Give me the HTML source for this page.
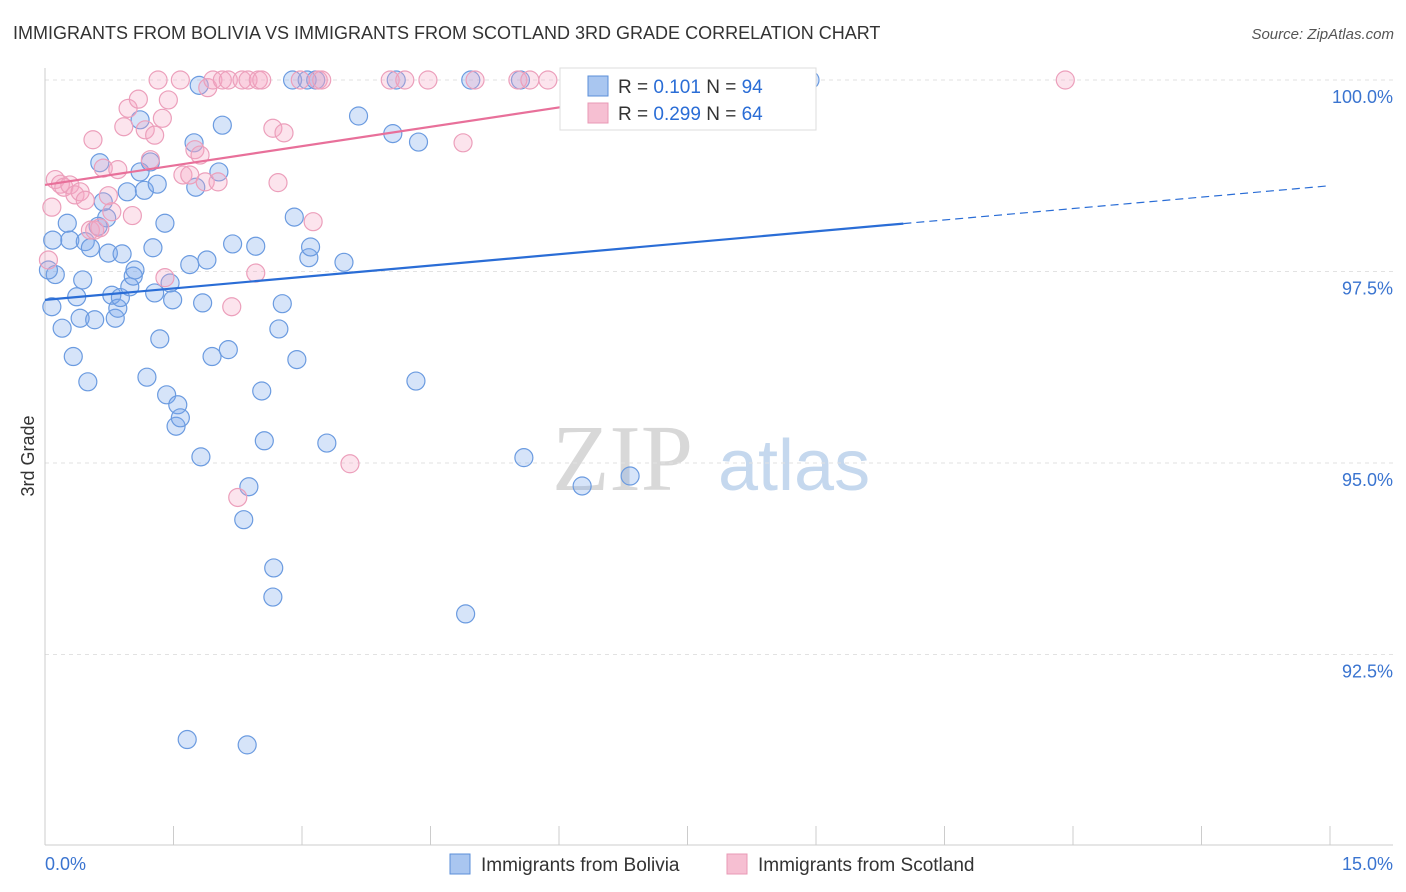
<!DOCTYPE html>
<html><head><meta charset="utf-8">
<style>
body{margin:0;background:#fff;font-family:"Liberation Sans",sans-serif;}
svg{display:block}
</style></head>
<body>
<svg id="chart" width="1406" height="892" viewBox="0 0 1406 892" xmlns="http://www.w3.org/2000/svg">
<text x="13" y="39" font-size="18" fill="#333">IMMIGRANTS FROM BOLIVIA VS IMMIGRANTS FROM SCOTLAND 3RD GRADE CORRELATION CHART</text>
<text x="1394" y="39" font-size="15" fill="#555" text-anchor="end" font-style="italic">Source: ZipAtlas.com</text>
<g>
<text x="552" y="490" font-size="94" font-family="Liberation Serif,serif" fill="#d8d8d8">ZIP</text>
<text x="718" y="490" font-size="72" fill="#c5d8ee">atlas</text>
</g>
<g id="grid"></g>
<g id="axes"></g>
<g id="blue"></g>
<g id="pink"></g>
<g id="trend"></g>
<g>
<rect x="560" y="68" width="256" height="62" fill="#fff" stroke="#ddd"/>
<rect x="588" y="76" width="20" height="20" fill="#a9c6f0" stroke="#5b8fd9"/>
<text x="618" y="93" font-size="19" fill="#333">R = <tspan fill="#2a6dd6">0.101</tspan>   N = <tspan fill="#2a6dd6">94</tspan></text>
<rect x="588" y="103" width="20" height="20" fill="#f6bfd2" stroke="#e899b5"/>
<text x="618" y="120" font-size="19" fill="#333">R = <tspan fill="#2a6dd6">0.299</tspan>   N = <tspan fill="#2a6dd6">64</tspan></text>
</g>
<g>
<rect x="450" y="854" width="20" height="20" fill="#a9c6f0" stroke="#5b8fd9"/>
<text x="481" y="871" font-size="19" fill="#333">Immigrants from Bolivia</text>
<rect x="727" y="854" width="20" height="20" fill="#f6bfd2" stroke="#e899b5"/>
<text x="758" y="871" font-size="19" fill="#333">Immigrants from Scotland</text>
</g>
<text transform="translate(34,456) rotate(-90)" font-size="18" fill="#333" text-anchor="middle">3rd Grade</text>
</svg>
<script>
const yTicks=[100,97.5,95,92.5];
const yTickLabels=["100.0%","97.5%","95.0%","92.5%"];
const xTicks=[0,1.5,3,4.5,6,7.5,9,10.5,12,13.5,15];
const blueX=[0.08,0.12,0.09,0.20,0.26,0.29,0.33,0.37,0.41,0.44,0.47,0.50,0.53,0.58,0.62,0.64,0.68,0.72,0.74,0.78,0.82,0.85,0.88,0.90,0.96,0.99,1.03,1.05,1.11,1.11,1.16,1.19,1.23,1.26,1.28,1.31,1.34,1.40,1.42,1.46,1.49,1.53,1.55,1.58,1.66,1.69,1.74,1.76,1.80,1.82,1.84,1.89,1.95,2.03,2.07,2.14,2.19,2.32,2.36,2.38,2.46,2.53,2.56,2.67,2.66,2.73,2.77,2.91,2.94,2.89,3.06,3.08,3.10,3.16,3.29,3.49,3.66,4.06,4.10,4.33,4.36,4.91,4.97,5.59,5.55,6.27,6.83,8.93,6.48,0.04];
const blueY=[97.04,97.46,97.91,96.76,98.13,97.91,96.39,97.17,96.89,97.39,97.89,96.06,97.81,96.87,98.09,98.92,98.41,98.20,97.74,97.19,96.89,97.02,97.16,97.73,98.54,97.30,97.44,97.52,98.80,99.48,98.56,96.12,98.93,97.81,97.22,98.64,96.62,98.13,95.89,97.35,97.13,95.48,95.76,95.59,91.39,97.59,99.18,98.60,99.93,95.08,97.09,97.65,96.39,98.80,99.41,96.48,97.86,94.26,91.32,94.69,97.83,95.94,95.29,93.63,93.25,96.75,97.08,98.21,96.35,100,100,97.68,97.82,100,95.26,97.62,99.53,99.30,100,96.07,99.19,93.03,100,95.07,100,94.70,94.83,100,99.93,97.52];
const pinkX=[0.04,0.08,0.12,0.18,0.22,0.29,0.35,0.41,0.47,0.53,0.58,0.64,0.68,0.74,0.78,0.85,0.92,0.97,1.02,1.09,1.17,1.23,1.28,1.32,1.37,1.40,1.44,1.58,1.61,1.69,1.75,1.81,1.87,1.90,1.96,2.02,2.07,2.14,2.18,2.25,2.30,2.37,2.46,2.49,2.53,2.66,2.72,2.79,2.98,3.13,3.19,3.23,3.56,4.03,4.20,4.47,4.88,5.02,5.52,5.66,5.87,11.91,0.56];
const pinkY=[97.65,98.34,98.70,98.64,98.60,98.63,98.50,98.54,98.43,98.04,98.04,98.07,98.85,98.49,98.28,98.83,99.39,99.63,98.23,99.75,99.35,98.96,99.28,100,99.50,97.42,99.74,100,98.76,98.76,99.09,99.02,98.67,99.90,100,98.67,100,100,97.04,94.55,100,100,97.48,100,100,99.37,98.66,99.31,100,98.15,100,100,94.99,100,100,100,99.18,100,100,100,100,100,99.22];
const blueTrend=[97.13,98.62]; // values at x=0 and x=15
const blueSolidEnd=10.02;
const pinkTrend=[98.63,100.03]; // values at x=0 and x=pinkEnd
const pinkEnd=8.3;

const NS="http://www.w3.org/2000/svg";
const X0=45,X1=1330,Y100=80,PX_PER=76.6;
function sx(v){return X0+(v/15)*(X1-X0);}
function sy(v){return Y100+(100-v)*PX_PER;}
function mk(tag,attrs,parent){const e=document.createElementNS(NS,tag);for(const k in attrs)e.setAttribute(k,attrs[k]);parent.appendChild(e);return e;}
const grid=document.getElementById('grid'),axes=document.getElementById('axes');
yTicks.forEach((t,i)=>{
 const l=mk('line',{x1:X0,x2:1393,y1:sy(t),y2:sy(t),stroke:'#e2e2e2','stroke-dasharray':'4,4'},grid);
 
 
 const tx=mk('text',{x:1393,y:sy(t)+23,'font-size':18,fill:'#3a74d0','text-anchor':'end'},axes);
 tx.textContent=yTickLabels[i];
 
 
});
mk('line',{x1:X0,x2:X0,y1:68,y2:845,stroke:'#ccc'},axes);
mk('line',{x1:X0,x2:1393,y1:845,y2:845,stroke:'#ccc'},axes);
xTicks.forEach(t=>{const l=mk('line',{x1:sx(t),x2:sx(t),y1:826,y2:845,stroke:'#ccc'},axes);
 
 });
let a=mk('text',{x:45,y:870,'font-size':18,fill:'#3a74d0'},axes);a.textContent='0.0%';


a=mk('text',{x:1393,y:870,'font-size':18,fill:'#3a74d0','text-anchor':'end'},axes);a.textContent='15.0%';


const bg=document.getElementById('blue'),pg=document.getElementById('pink');
blueX.forEach((v,i)=>{const c=mk('circle',{cx:sx(v),cy:sy(blueY[i]),r:9,fill:'rgba(120,165,235,0.3)',stroke:'#6b9be0','stroke-width':1.2},bg);
 
 });
pinkX.forEach((v,i)=>{const c=mk('circle',{cx:sx(v),cy:sy(pinkY[i]),r:9,fill:'rgba(245,165,195,0.3)',stroke:'#ec9fbb','stroke-width':1.2},pg);
 
 });
const tg=document.getElementById('trend');
const bAt=x=>blueTrend[0]+(blueTrend[1]-blueTrend[0])*x/15;
let l=mk('line',{x1:sx(0),y1:sy(bAt(0)),x2:sx(blueSolidEnd),y2:sy(bAt(blueSolidEnd)),stroke:'#2a6dd6','stroke-width':2.2},tg);


l=mk('line',{x1:sx(blueSolidEnd),y1:sy(bAt(blueSolidEnd)),x2:sx(15),y2:sy(bAt(15)),stroke:'#2a6dd6','stroke-width':1.2,'stroke-dasharray':'8,5'},tg);


l=mk('line',{x1:sx(0),y1:sy(pinkTrend[0]),x2:sx(pinkEnd),y2:sy(pinkTrend[1]),stroke:'#e8709a','stroke-width':2.2},tg);


</script>
</body></html>
